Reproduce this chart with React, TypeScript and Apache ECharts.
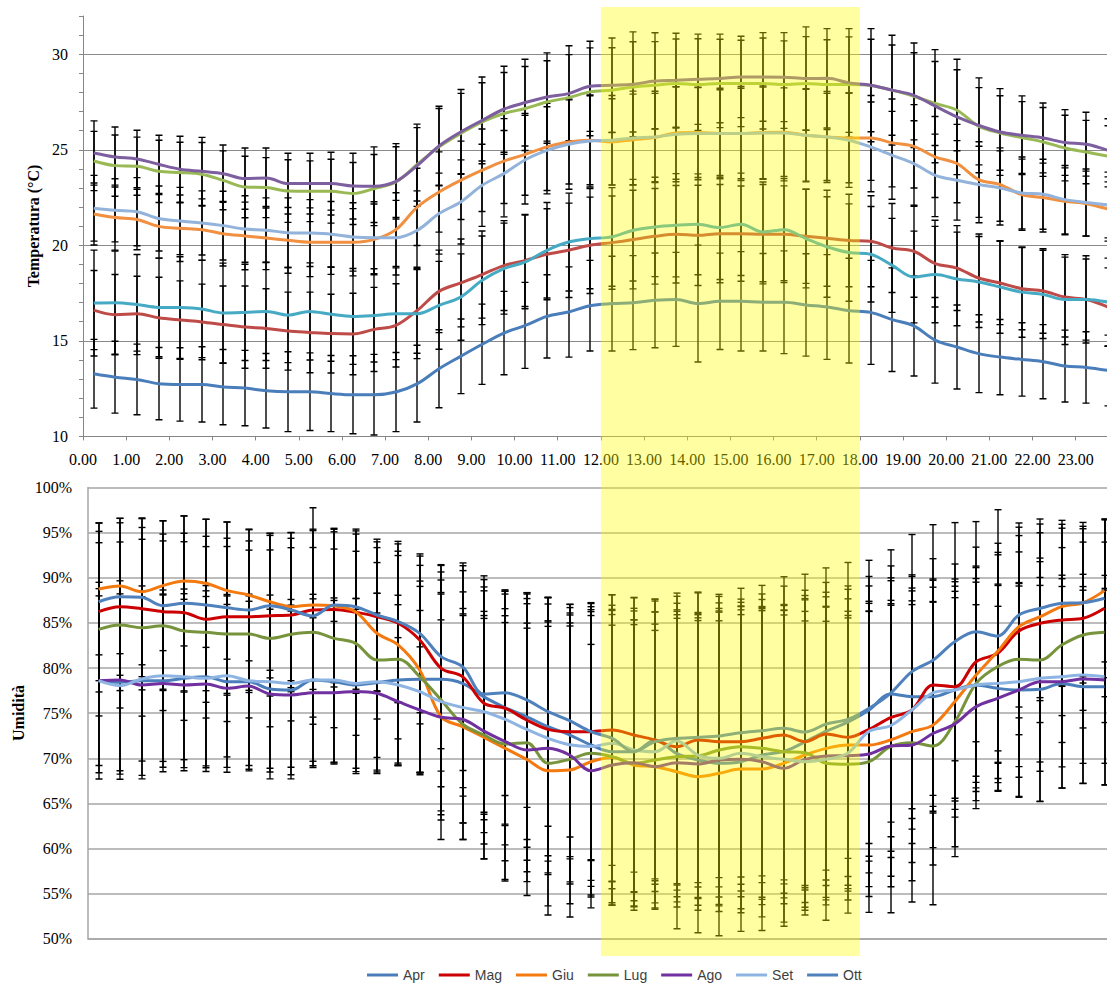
import React, { useEffect, useRef } from "react";
import * as echarts from "echarts";

// x categories: half-hour slots (hours)
const hours = [0.25, 0.75, 1.25, 1.75, 2.25, 2.75, 3.25, 3.75, 4.25, 4.75, 5.25, 5.75, 6.25, 6.75, 7.25, 7.75, 8.25, 8.75, 9.25, 9.75, 10.25, 10.75, 11.25, 11.75, 12.25, 12.75, 13.25, 13.75, 14.25, 14.75, 15.25, 15.75, 16.25, 16.75, 17.25, 17.75, 18.25, 18.75, 19.25, 19.75, 20.25, 20.75, 21.25, 21.75, 22.25, 22.75, 23.25, 23.75];
const months = ["Apr", "Mag", "Giu", "Lug", "Ago", "Set", "Ott"];

// Temperature means (°C)
const tApr = [13.28, 13.10, 12.98, 12.76, 12.72, 12.72, 12.58, 12.53, 12.39, 12.34, 12.34, 12.24, 12.18, 12.18, 12.32, 12.76, 13.54, 14.19, 14.82, 15.41, 15.81, 16.28, 16.51, 16.84, 16.95, 17.00, 17.12, 17.17, 16.95, 17.07, 17.07, 17.02, 17.02, 16.88, 16.77, 16.58, 16.49, 16.11, 15.78, 15.03, 14.68, 14.33, 14.15, 14.03, 13.91, 13.68, 13.61, 13.45];
const tMag = [16.61, 16.37, 16.42, 16.21, 16.09, 15.99, 15.85, 15.72, 15.65, 15.51, 15.44, 15.38, 15.36, 15.60, 15.81, 16.60, 17.59, 18.03, 18.47, 18.94, 19.21, 19.53, 19.74, 20.00, 20.14, 20.30, 20.47, 20.58, 20.52, 20.61, 20.61, 20.58, 20.58, 20.47, 20.37, 20.25, 20.21, 19.86, 19.69, 19.04, 18.81, 18.29, 18.03, 17.73, 17.61, 17.29, 17.16, 16.77];
const tGiu = [21.64, 21.45, 21.35, 20.99, 20.89, 20.82, 20.61, 20.49, 20.38, 20.26, 20.16, 20.16, 20.16, 20.31, 20.82, 22.01, 22.79, 23.40, 23.93, 24.41, 24.76, 25.15, 25.41, 25.50, 25.41, 25.53, 25.64, 25.88, 25.90, 25.85, 25.85, 25.90, 25.92, 25.76, 25.67, 25.62, 25.62, 25.36, 25.18, 24.62, 24.28, 23.44, 23.18, 22.65, 22.50, 22.30, 22.18, 21.90];
const tLug = [24.41, 24.17, 24.14, 23.87, 23.81, 23.72, 23.40, 23.05, 23.02, 22.84, 22.83, 22.83, 22.71, 22.97, 23.31, 24.24, 25.15, 25.85, 26.46, 26.90, 27.16, 27.50, 27.73, 28.03, 28.12, 28.29, 28.38, 28.47, 28.41, 28.47, 28.47, 28.47, 28.41, 28.47, 28.41, 28.41, 28.36, 28.12, 27.80, 27.42, 27.07, 26.23, 25.88, 25.64, 25.41, 25.09, 24.88, 24.66];
const tAgo = [24.83, 24.62, 24.52, 24.24, 23.98, 23.87, 23.75, 23.49, 23.52, 23.23, 23.23, 23.23, 23.10, 23.09, 23.35, 24.19, 25.20, 25.93, 26.54, 27.12, 27.47, 27.76, 27.94, 28.32, 28.38, 28.43, 28.60, 28.64, 28.69, 28.73, 28.81, 28.81, 28.80, 28.73, 28.74, 28.50, 28.38, 28.12, 27.85, 27.28, 26.72, 26.28, 25.93, 25.76, 25.62, 25.38, 25.29, 24.97];
const tSet = [21.94, 21.83, 21.76, 21.40, 21.27, 21.17, 21.03, 20.85, 20.79, 20.66, 20.64, 20.58, 20.44, 20.40, 20.40, 20.79, 21.66, 22.27, 23.14, 23.75, 24.48, 24.97, 25.29, 25.46, 25.50, 25.62, 25.67, 25.81, 25.85, 25.85, 25.85, 25.88, 25.88, 25.76, 25.67, 25.50, 25.15, 24.71, 24.28, 23.66, 23.40, 23.18, 23.00, 22.74, 22.67, 22.39, 22.24, 22.11];
const tOtt = [16.98, 17.00, 16.90, 16.75, 16.74, 16.67, 16.46, 16.49, 16.54, 16.35, 16.54, 16.39, 16.28, 16.33, 16.42, 16.42, 16.86, 17.29, 18.17, 18.78, 19.13, 19.74, 20.17, 20.35, 20.44, 20.79, 20.96, 21.05, 21.10, 20.93, 21.10, 20.70, 20.82, 20.35, 19.91, 19.62, 19.53, 18.95, 18.34, 18.47, 18.24, 18.08, 17.82, 17.55, 17.43, 17.16, 17.17, 17.03];

// Temperature standard deviations (error bars)
const tAprSd = [1.80, 1.88, 1.85, 1.89, 1.92, 1.97, 1.97, 1.97, 1.95, 2.09, 2.03, 1.99, 2.04, 2.11, 2.07, 2.01, 2.04, 1.95, 2.10, 2.18, 2.25, 2.18, 2.36, 2.37, 2.48, 2.46, 2.48, 2.46, 3.06, 2.52, 2.60, 2.55, 2.69, 2.68, 2.74, 2.74, 2.72, 2.71, 2.62, 2.24, 2.20, 2.04, 1.97, 1.92, 1.94, 1.88, 1.87, 1.85];
const tMagSd = [2.07, 2.10, 1.96, 2.12, 2.05, 1.98, 2.02, 2.15, 2.08, 2.04, 2.11, 2.06, 2.13, 2.20, 2.18, 2.25, 2.16, 2.30, 2.28, 2.35, 2.41, 2.38, 2.47, 2.52, 2.44, 2.58, 2.50, 2.55, 2.62, 2.57, 2.49, 2.60, 2.53, 2.46, 2.51, 2.42, 2.38, 2.33, 2.41, 2.27, 2.22, 2.30, 2.18, 2.15, 2.21, 2.09, 2.12, 2.05];
const tGiuSd = [1.62, 1.70, 1.58, 1.66, 1.74, 1.61, 1.69, 1.77, 1.65, 1.72, 1.80, 1.68, 1.76, 1.85, 1.93, 2.02, 2.10, 2.05, 2.16, 2.22, 2.14, 2.28, 2.20, 2.33, 2.26, 2.38, 2.31, 2.42, 2.35, 2.29, 2.37, 2.44, 2.32, 2.40, 2.28, 2.35, 2.22, 2.30, 2.18, 2.12, 2.05, 1.98, 1.92, 1.86, 1.80, 1.75, 1.70, 1.68];
const tLugSd = [1.55, 1.60, 1.52, 1.63, 1.58, 1.66, 1.54, 1.61, 1.57, 1.64, 1.59, 1.67, 1.62, 1.78, 1.85, 1.92, 2.01, 2.10, 2.05, 2.14, 2.20, 2.16, 2.25, 2.30, 2.22, 2.36, 2.28, 2.33, 2.40, 2.31, 2.26, 2.38, 2.29, 2.45, 2.35, 2.50, 2.42, 2.36, 2.28, 2.20, 2.12, 2.02, 1.95, 1.88, 1.80, 1.72, 1.66, 1.60];
const tAgoSd = [1.68, 1.57, 1.50, 1.52, 1.73, 1.78, 1.50, 1.60, 1.57, 1.59, 1.59, 1.64, 1.72, 2.06, 1.97, 2.15, 2.08, 2.22, 2.27, 2.25, 2.27, 2.31, 2.50, 2.36, 2.47, 2.74, 2.52, 2.46, 2.36, 2.32, 2.13, 2.32, 2.33, 2.70, 2.60, 2.84, 2.96, 2.87, 2.74, 2.96, 3.02, 2.48, 2.27, 2.06, 1.83, 1.72, 1.67, 1.65];
const tSetSd = [1.72, 1.65, 1.78, 1.70, 1.76, 1.68, 1.80, 1.74, 1.69, 1.82, 1.75, 1.71, 1.79, 1.88, 1.95, 2.06, 2.12, 2.20, 2.15, 2.26, 2.32, 2.28, 2.36, 2.41, 2.34, 2.45, 2.39, 2.48, 2.42, 2.37, 2.46, 2.40, 2.51, 2.44, 2.38, 2.47, 2.35, 2.30, 2.24, 2.16, 2.08, 2.00, 1.94, 1.88, 1.83, 1.79, 1.75, 1.72];
const tOttSd = [2.77, 2.70, 2.62, 2.58, 2.66, 2.55, 2.61, 2.52, 2.57, 2.49, 2.54, 2.46, 2.51, 2.44, 2.40, 2.35, 2.30, 2.26, 2.32, 2.38, 2.45, 2.50, 2.56, 2.62, 2.58, 2.66, 2.60, 2.70, 2.64, 2.72, 2.68, 2.61, 2.67, 2.58, 2.63, 2.55, 2.50, 2.46, 2.40, 2.52, 2.45, 2.38, 2.42, 2.36, 2.31, 2.35, 2.28, 2.30];

// Humidity means (%)
const hApr = [78.60, 78.42, 78.60, 78.60, 78.86, 79.04, 78.49, 78.49, 77.68, 77.57, 78.67, 78.49, 78.12, 78.38, 78.67, 78.75, 78.75, 78.30, 76.80, 75.60, 74.60, 73.50, 72.60, 71.47, 70.73, 70.73, 72.03, 70.55, 69.81, 69.44, 69.62, 70.36, 70.73, 71.80, 73.00, 74.00, 75.35, 77.12, 76.83, 76.83, 77.57, 78.12, 77.75, 77.57, 77.64, 78.30, 77.93, 77.93];
const hMag = [86.25, 86.80, 86.58, 86.25, 86.14, 85.40, 85.69, 85.69, 85.80, 85.88, 86.43, 86.50, 86.20, 85.69, 84.96, 83.11, 79.97, 79.04, 76.09, 75.54, 74.24, 73.20, 72.95, 72.95, 73.13, 72.58, 72.03, 71.28, 72.03, 71.84, 71.84, 72.21, 72.58, 71.84, 72.69, 72.32, 73.20, 74.50, 75.35, 78.12, 77.93, 80.70, 81.63, 84.11, 84.96, 85.33, 85.51, 86.62];
const hGiu = [88.76, 89.09, 88.46, 89.13, 89.65, 89.39, 88.58, 88.10, 87.35, 86.80, 86.99, 86.88, 86.25, 83.85, 82.55, 79.78, 74.60, 73.50, 72.32, 71.10, 69.88, 68.62, 68.70, 69.62, 70.10, 69.25, 69.07, 68.51, 67.96, 68.33, 68.81, 68.81, 69.44, 70.36, 71.10, 71.47, 71.47, 72.03, 72.95, 73.70, 76.27, 79.23, 81.82, 84.58, 85.69, 86.80, 87.24, 88.58];
const hLug = [84.29, 84.77, 84.47, 84.69, 84.10, 83.96, 83.77, 83.77, 83.29, 83.74, 83.96, 83.29, 82.74, 80.89, 80.97, 79.04, 76.46, 73.80, 72.58, 71.58, 71.73, 69.44, 69.88, 70.55, 70.18, 69.44, 69.81, 70.18, 70.25, 70.92, 71.28, 71.10, 70.73, 70.62, 69.44, 69.33, 69.62, 71.28, 71.73, 71.36, 74.00, 78.30, 80.15, 80.97, 80.89, 82.55, 83.66, 83.96];
const hAgo = [78.60, 78.67, 78.12, 78.30, 78.12, 78.23, 77.75, 78.00, 77.12, 77.01, 77.27, 77.27, 77.40, 77.20, 76.27, 75.35, 74.54, 74.32, 73.00, 71.84, 70.92, 71.10, 70.36, 68.62, 69.25, 69.51, 69.07, 69.51, 69.36, 69.81, 69.88, 69.62, 68.88, 69.88, 70.25, 70.29, 70.47, 71.36, 71.47, 72.77, 73.80, 75.72, 76.64, 77.57, 78.49, 78.49, 78.79, 78.67];
const hSet = [78.60, 78.04, 78.79, 79.15, 79.04, 78.86, 79.15, 78.60, 78.49, 78.30, 78.67, 78.67, 78.30, 78.49, 78.12, 77.38, 76.27, 75.64, 75.16, 74.30, 73.20, 72.20, 71.50, 71.30, 71.66, 70.92, 70.73, 71.95, 70.36, 69.99, 70.55, 70.18, 69.88, 69.62, 69.88, 70.55, 73.00, 73.60, 75.35, 77.27, 77.57, 78.12, 78.30, 78.49, 78.86, 79.04, 79.23, 79.04];
const hOtt = [87.35, 87.90, 87.84, 86.91, 87.17, 86.99, 86.69, 86.43, 86.91, 86.43, 85.77, 86.99, 86.80, 85.88, 85.14, 83.85, 81.26, 80.15, 77.12, 77.27, 76.46, 75.16, 74.17, 72.95, 72.21, 70.73, 71.84, 72.21, 72.32, 72.47, 72.84, 73.06, 73.32, 72.90, 73.80, 74.30, 75.54, 77.20, 79.60, 80.89, 82.92, 84.03, 83.55, 85.88, 86.62, 87.17, 87.24, 87.73];

// Humidity standard deviations (error bars)
const hAprSd = [10.2, 9.8, 10.5, 9.6, 9.9, 10.1, 9.5, 9.7, 9.2, 9.4, 9.0, 9.0, 9.6, 9.9, 9.4, 10.3, 11.9, 12.5, 13.0, 12.9, 13.6, 14.3, 13.5, 15.0, 15.2, 15.6, 15.4, 15.9, 16.1, 15.8, 16.3, 16.0, 15.7, 15.9, 15.4, 15.1, 14.8, 14.2, 13.5, 12.9, 12.3, 11.8, 11.4, 11.9, 12.4, 11.6, 10.7, 10.9];
const hMagSd = [8.9, 9.3, 9.0, 8.6, 8.8, 9.2, 8.7, 8.4, 8.9, 8.5, 8.8, 8.6, 9.0, 8.3, 8.8, 9.3, 11.4, 12.3, 12.9, 13.0, 14.1, 14.6, 14.1, 14.2, 15.0, 15.2, 15.6, 15.9, 16.3, 16.1, 15.8, 16.0, 16.5, 16.2, 16.8, 16.4, 15.9, 15.5, 14.8, 14.0, 13.6, 12.7, 12.2, 11.5, 11.0, 10.6, 10.2, 9.8];
const hGiuSd = [7.3, 7.5, 8.1, 7.2, 7.2, 7.1, 7.6, 7.3, 7.6, 8.2, 8.4, 8.5, 8.6, 9.5, 10.4, 11.6, 13.6, 12.5, 13.5, 14.7, 15.1, 16.0, 16.3, 16.2, 16.4, 16.1, 15.8, 17.4, 17.3, 18.0, 18.0, 17.9, 17.6, 17.2, 16.8, 16.2, 15.7, 15.1, 14.5, 13.6, 12.8, 11.9, 11.0, 10.1, 9.3, 8.7, 8.2, 7.9];
const hLugSd = [9.6, 9.2, 9.8, 9.4, 9.9, 9.5, 9.7, 9.3, 9.8, 9.6, 9.4, 9.9, 10.2, 10.8, 11.5, 10.6, 13.3, 12.8, 13.7, 15.0, 15.4, 15.8, 16.0, 15.7, 16.2, 15.9, 16.4, 16.1, 15.8, 16.3, 16.0, 16.5, 16.2, 18.0, 17.4, 16.5, 16.7, 18.4, 15.3, 17.6, 13.8, 13.0, 12.4, 11.9, 11.3, 10.8, 10.3, 10.0];
const hAgoSd = [10.9, 11.0, 10.4, 9.8, 9.5, 9.7, 9.3, 9.4, 9.4, 9.3, 8.3, 7.9, 9.1, 8.9, 7.1, 7.0, 10.8, 11.5, 12.5, 13.2, 13.5, 14.0, 14.3, 14.0, 15.5, 15.3, 15.1, 16.0, 16.2, 16.8, 17.0, 17.2, 17.5, 16.4, 16.5, 16.0, 15.8, 15.6, 17.4, 14.6, 14.7, 11.3, 10.2, 11.8, 13.3, 11.8, 11.6, 11.6];
const hSetSd = [9.4, 9.8, 9.1, 9.5, 9.2, 9.7, 9.0, 9.4, 9.6, 9.3, 9.5, 9.1, 9.4, 9.8, 8.9, 9.0, 12.1, 12.8, 13.4, 13.9, 14.5, 14.9, 15.2, 15.5, 15.3, 15.7, 15.5, 16.0, 15.8, 16.2, 15.9, 16.4, 16.0, 15.6, 15.3, 15.0, 14.4, 13.9, 13.2, 12.6, 12.0, 11.4, 11.0, 10.6, 10.3, 10.0, 9.8, 9.6];
const hOttSd = [8.75, 8.7, 8.8, 9.4, 9.7, 9.5, 9.5, 8.9, 8.0, 8.6, 12.0, 8.5, 8.6, 8.4, 8.9, 8.8, 10.2, 11.5, 13.1, 11.4, 11.9, 12.7, 12.9, 14.3, 15.9, 17.1, 15.8, 16.1, 16.1, 15.7, 16.0, 16.1, 16.8, 17.5, 17.3, 17.4, 16.4, 15.9, 15.2, 15.0, 13.2, 12.2, 14.0, 10.2, 9.9, 9.2, 8.9, 8.8];

// Tick labels / axis settings
const tempTickStep = 1;
const tempLabelStep = 5;
const humTickStep = 5;
const highlightFrom = 12;
const highlightTo = 18;

const tempMeans = [tApr, tMag, tGiu, tLug, tAgo, tSet, tOtt];
const tempSds = [tAprSd, tMagSd, tGiuSd, tLugSd, tAgoSd, tSetSd, tOttSd];
const humMeans = [hApr, hMag, hGiu, hLug, hAgo, hSet, hOtt];
const humSds = [hAprSd, hMagSd, hGiuSd, hLugSd, hAgoSd, hSetSd, hOttSd];

const tempColors = ["#4A7EBB", "#BE4B48", "#F09040", "#98B954", "#7D5FA0", "#93B3DA", "#46AAC5"];
const humColors = ["#4A7EBB", "#CC0000", "#F47A10", "#77933C", "#7030A0", "#8DB4E2", "#4F81BD"];

const SERIF = '"Liberation Serif", "Times New Roman", serif';

function errorBarItem(params: any, api: any) {
  const x = api.value(0);
  const hi = api.coord([x, api.value(2)]);
  const lo = api.coord([x, api.value(1)]);
  const cx = Math.round(hi[0]);
  const hw = 3.5;
  const style = { stroke: "#000", lineWidth: 1.4, fill: "none" };
  return {
    type: "group",
    children: [
      { type: "line", shape: { x1: cx, y1: hi[1], x2: cx, y2: lo[1] }, style },
      { type: "line", shape: { x1: cx - hw, y1: hi[1], x2: cx + hw, y2: hi[1] }, style },
      { type: "line", shape: { x1: cx - hw, y1: lo[1], x2: cx + hw, y2: lo[1] }, style },
    ],
  };
}

function buildErrData(means: number[][], sds: number[][]) {
  const out: number[][] = [];
  means.forEach((m, s) => {
    m.forEach((v, i) => {
      out.push([hours[i], v - sds[s][i], v + sds[s][i]]);
    });
  });
  return out;
}

export default function App() {
  const ref = useRef<HTMLDivElement>(null);

  useEffect(() => {
    if (!ref.current) return;
    const chart = echarts.init(ref.current, undefined, { renderer: "svg" });

    const humLines = months.map((name, s) => ({
      name,
      type: "line",
      xAxisIndex: 1,
      yAxisIndex: 2,
      data: hours.map((h, i) => [h, humMeans[s][i]]),
      smooth: 0.35,
      symbol: "none",
      showSymbol: false,
      lineStyle: { width: 3, color: humColors[s] },
      itemStyle: { color: humColors[s] },
      z: 5,
    }));
    const tempLines = months.map((name, s) => ({
      name,
      type: "line",
      xAxisIndex: 0,
      yAxisIndex: 0,
      data: hours.map((h, i) => [h, tempMeans[s][i]]),
      smooth: 0.35,
      symbol: "none",
      showSymbol: false,
      lineStyle: { width: 3, color: tempColors[s] },
      itemStyle: { color: tempColors[s] },
      z: 5,
    }));

    const axisGray = "#868686";
    const option: any = {
      animation: false,
      backgroundColor: "#ffffff",
      grid: [
        { left: 83, top: 16, width: 1035.8, height: 420.4 },
        { left: 88, top: 487.6, width: 1027.2, height: 451.1 },
      ],
      legend: {
        data: months,
        left: 367,
        top: 968,
        padding: 0,
        icon: "rect",
        itemWidth: 31,
        itemHeight: 3,
        itemGap: 14,
        textStyle: { fontFamily: '"Liberation Sans", Arial, sans-serif', fontSize: 14, color: "#404040" },
      },
      xAxis: [
        {
          gridIndex: 0,
          type: "value",
          min: 0,
          max: 24,
          interval: 1,
          axisLine: { show: true, lineStyle: { color: axisGray, width: 1 } },
          axisTick: { show: true, length: 4, lineStyle: { color: axisGray } },
          axisLabel: {
            formatter: (v: number) => (Number.isInteger(v) && v < 24 ? v.toFixed(2) : ""),
            fontFamily: SERIF,
            fontSize: 16,
            color: "#000",
            margin: 15,
          },
          splitLine: { show: false },
        },
        {
          gridIndex: 1,
          type: "value",
          min: 0,
          max: 24,
          interval: 1,
          axisLine: { show: true, lineStyle: { color: "#a6a6a6", width: 1.5 } },
          axisTick: { show: false },
          axisLabel: { show: false },
          splitLine: { show: false },
        },
      ],
      yAxis: [
        {
          gridIndex: 0,
          type: "value",
          min: 10,
          max: 32,
          interval: tempTickStep,
          axisLine: { show: true, lineStyle: { color: axisGray, width: 1 } },
          axisTick: { show: true, length: 4, lineStyle: { color: axisGray } },
          axisLabel: {
            formatter: (v: number) => (v % tempLabelStep === 0 ? String(v) : ""),
            fontFamily: SERIF,
            fontSize: 16,
            color: "#000",
            margin: 15,
          },
          splitLine: { show: false },
        },
        {
          gridIndex: 0,
          type: "value",
          position: "left",
          min: 10,
          max: 32,
          interval: tempLabelStep,
          axisLine: { show: false },
          axisTick: { show: false },
          axisLabel: { show: false },
          splitLine: { show: true, showMinLine: false, showMaxLine: false, lineStyle: { color: "#8a8a8a", width: 1 } },
        },
        {
          gridIndex: 1,
          type: "value",
          min: 50,
          max: 100,
          interval: humTickStep,
          axisLine: { show: true, lineStyle: { color: "#a6a6a6", width: 1.5 } },
          axisTick: { show: false },
          axisLabel: {
            formatter: "{value}%",
            fontFamily: SERIF,
            fontSize: 16,
            color: "#000",
            margin: 16,
          },
          splitLine: { show: true, lineStyle: { color: "#a6a6a6", width: 1.5 } },
        },
      ],
      series: [
        ...humLines,
        ...tempLines,
        {
          name: "errT",
          type: "custom",
          xAxisIndex: 0,
          yAxisIndex: 0,
          renderItem: errorBarItem,
          data: buildErrData(tempMeans, tempSds),
          encode: { x: 0, y: [1, 2] },
          clip: true,
          silent: true,
          z: 3,
        },
        {
          name: "errH",
          type: "custom",
          xAxisIndex: 1,
          yAxisIndex: 2,
          renderItem: errorBarItem,
          data: buildErrData(humMeans, humSds),
          encode: { x: 0, y: [1, 2] },
          clip: true,
          silent: true,
          z: 3,
        },
      ],
    };

    chart.setOption(option);

    const x12 = chart.convertToPixel({ xAxisIndex: 0 }, highlightFrom) as number;
    const x18 = chart.convertToPixel({ xAxisIndex: 0 }, highlightTo) as number;

    chart.setOption({
      graphic: [
        {
          type: "text",
          x: 33,
          y: 226,
          rotation: Math.PI / 2,
          silent: true,
          style: {
            text: "Temperatura (°C)",
            font: 'bold 16px "Liberation Serif", "Times New Roman", serif',
            fill: "#000",
            align: "center",
            verticalAlign: "middle",
          },
        },
        {
          type: "text",
          x: 18,
          y: 713,
          rotation: Math.PI / 2,
          silent: true,
          style: {
            text: "Umidità",
            font: 'bold 16px "Liberation Serif", "Times New Roman", serif',
            fill: "#000",
            align: "center",
            verticalAlign: "middle",
          },
        },
        {
          type: "rect",
          silent: true,
          z: 100,
          shape: { x: x12, y: 7, width: x18 - x12, height: 949 },
          style: { fill: "rgba(255,255,0,0.37)" },
        },
      ],
    });

    return () => chart.dispose();
  }, []);

  return (
    <div style={{ position: "absolute", left: 0, top: 0, width: 1107, height: 993, overflow: "hidden", background: "#fff" }}>
      <div ref={ref} style={{ width: 1125, height: 993 }} />
    </div>
  );
}
